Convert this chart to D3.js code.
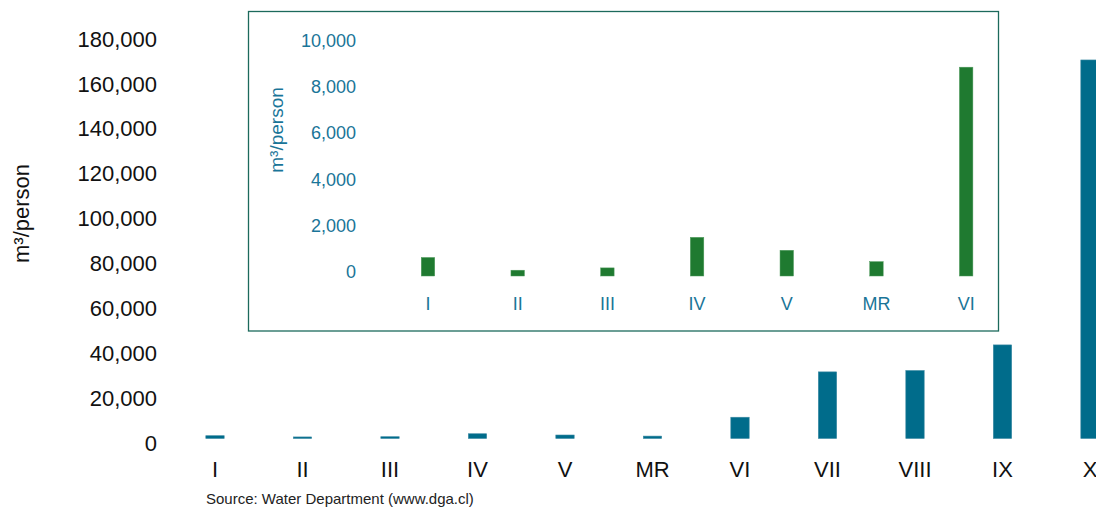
<!DOCTYPE html>
<html>
<head>
<meta charset="utf-8">
<script src="https://cdn.jsdelivr.net/npm/d3@7"></script>
<style>
  html, body { margin: 0; padding: 0; background: #fff; }
  svg { display: block; font-family: "Liberation Sans", Arial, sans-serif; }
</style>
</head>
<body>
<svg id="chart" width="1096" height="508"></svg>
<script>
// ---- data ----
const regions = ["I", "II", "III", "IV", "V", "MR", "VI", "VII", "VIII", "IX", "X"];
const waterPerPerson = [800, 250, 350, 1670, 1110, 620, 9020, 29200, 29800, 41200, 168000];
const mainTicks = [0, 20000, 40000, 60000, 80000, 100000, 120000, 140000, 160000, 180000];
const insetRegions = ["I", "II", "III", "IV", "V", "MR", "VI"];
const insetTicks = [0, 2000, 4000, 6000, 8000, 10000];
const yTitle = "m³/person";
const sourceNote = "Source: Water Department (www.dga.cl)";

const svg = d3.select("#chart");
const fmt = d3.format(",");

// ---- main chart ----
const x = d3.scaleBand().domain(regions).range([171.25, 1133.75]).paddingInner(0.79).paddingOuter(0.395);
const y = d3.scaleLinear().domain([0, 180000]).range([438.5, 34]);

const mainColor = "#006c8b";
svg.append("g").selectAll("rect")
  .data(regions.map((r, i) => ({ r, v: waterPerPerson[i] })))
  .join("rect")
  .attr("x", d => x(d.r))
  .attr("width", x.bandwidth())
  .attr("y", d => y(d.v) - 1)
  .attr("height", d => y(0) - y(d.v) + 1)
  .attr("fill", mainColor)
  .attr("stroke", "#3d8aa3")
  .attr("stroke-width", 0.6);

const yAxis = svg.append("g").attr("transform", "translate(170,0)")
  .call(d3.axisLeft(y).tickValues(mainTicks).tickFormat(fmt).tickSize(0).tickPadding(13));
yAxis.select(".domain").remove();
yAxis.selectAll("text").attr("font-size", 22).attr("fill", "#111").attr("dy", "0.55em")
  .attr("font-family", "Liberation Sans, Arial, sans-serif");

const xAxis = svg.append("g").attr("transform", "translate(0,438.5)")
  .call(d3.axisBottom(x).tickSize(0).tickPadding(23));
xAxis.select(".domain").remove();
xAxis.selectAll("text").attr("font-size", 22).attr("fill", "#111")
  .attr("font-family", "Liberation Sans, Arial, sans-serif");

svg.append("text")
  .attr("transform", "translate(29,213.5) rotate(-90)")
  .attr("text-anchor", "middle")
  .attr("font-size", 22)
  .attr("fill", "#111")
  .text(yTitle);

svg.append("text")
  .attr("x", 206).attr("y", 504)
  .attr("font-size", 15)
  .attr("fill", "#222")
  .text(sourceNote);

// ---- inset ----
const insetColor = "#1f7a30";
const insetText = "#1a7598";
const inset = svg.append("g");
inset.append("rect")
  .attr("x", 248.5).attr("y", 11.5).attr("width", 750).attr("height", 319.5)
  .attr("fill", "#fff").attr("stroke", "#1c6a5c").attr("stroke-width", 1.3);

const xi = d3.scaleBand().domain(insetRegions).range([383.15, 1011]).paddingInner(0.85).paddingOuter(0.425);
const yi = d3.scaleLinear().domain([0, 10000]).range([276, 44.5]);

inset.append("g").selectAll("rect")
  .data(insetRegions.map((r, i) => ({ r, v: waterPerPerson[i] })))
  .join("rect")
  .attr("x", d => xi(d.r))
  .attr("width", xi.bandwidth())
  .attr("y", d => yi(d.v))
  .attr("height", d => yi(0) - yi(d.v))
  .attr("fill", insetColor)
  .attr("stroke", "#4e9a5c")
  .attr("stroke-width", 0.5);

const yiAxis = inset.append("g").attr("transform", "translate(368,0)")
  .call(d3.axisLeft(yi).tickValues(insetTicks).tickFormat(fmt).tickSize(0).tickPadding(12));
yiAxis.select(".domain").remove();
yiAxis.selectAll("text").attr("font-size", 18).attr("fill", insetText).attr("dy", "0.1em")
  .attr("font-family", "Liberation Sans, Arial, sans-serif");

const xiAxis = inset.append("g").attr("transform", "translate(0,276)")
  .call(d3.axisBottom(xi).tickSize(0).tickPadding(21));
xiAxis.select(".domain").remove();
xiAxis.selectAll("text").attr("font-size", 18).attr("fill", insetText)
  .attr("font-family", "Liberation Sans, Arial, sans-serif");

inset.append("text")
  .attr("transform", "translate(283,130) rotate(-90)")
  .attr("text-anchor", "middle")
  .attr("font-size", 19)
  .attr("fill", insetText)
  .text(yTitle);
</script>
</body>
</html>
